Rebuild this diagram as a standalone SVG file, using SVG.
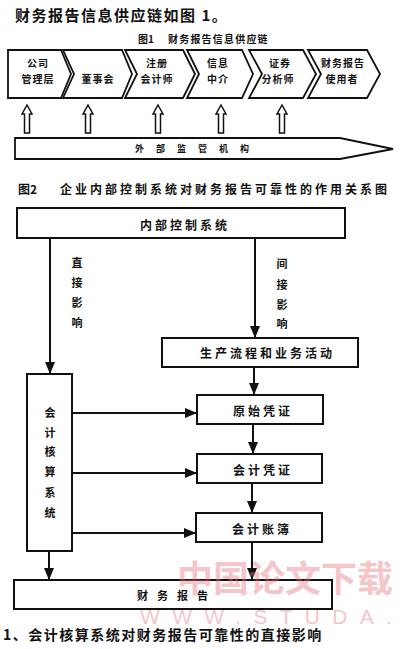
<svg xmlns="http://www.w3.org/2000/svg" width="400" height="649" viewBox="0 0 400 649">
<defs>
<style>
.t{font-family:"Noto Sans CJK SC","Noto Sans",sans-serif;font-weight:bold;fill:#111;dominant-baseline:central}
.box{fill:#fff;stroke:#111;stroke-width:2}
.chev{fill:#fff;stroke:#111;stroke-width:1.8;stroke-linejoin:miter}
.hol{fill:#fff;stroke:#111;stroke-width:1.5}
.con{fill:none;stroke:#111;stroke-width:2;marker-end:url(#ah)}
.wm{font-family:"Noto Sans CJK SC","Liberation Sans",sans-serif;fill:#e8707a;opacity:0.4}
</style>
<marker id="ah" markerUnits="userSpaceOnUse" markerWidth="12" markerHeight="10" viewBox="0 0 12 10" refX="12" refY="5" orient="auto">
<path d="M0,0 L12,5 L0,10 Z" fill="#111"/>
</marker>
</defs>
<rect width="400" height="649" fill="#fff"/>

<text class="t" x="15" y="14" font-size="15" letter-spacing="1.5">财务报告信息供应链如图 1。</text>
<text class="t" x="138" y="38" font-size="10">图1</text>
<text class="t" x="168" y="38" font-size="10" letter-spacing="1.2">财务报告信息供应链</text>

<g id="chain1">
<path class="chev" d="M8,50 L61,50 L71,74 L61,98 L8,98 Z"/>
<text class="t" font-size="10" letter-spacing="1" text-anchor="middle"><tspan x="38" y="62">公司</tspan><tspan x="38" y="78">管理层</tspan></text>
</g>
<g id="chain2">
<path class="chev" d="M63,50 L122,50 L132,74 L122,98 L63,98 L74,74 Z"/>
<text class="t" font-size="10" letter-spacing="1" text-anchor="middle" x="98" y="78">董事会</text>
</g>
<g id="chain3">
<path class="chev" d="M125,50 L183,50 L195,74 L183,98 L125,98 L137,74 Z"/>
<text class="t" font-size="10" letter-spacing="1" text-anchor="middle"><tspan x="157" y="62">注册</tspan><tspan x="157" y="78">会计师</tspan></text>
</g>
<g id="chain4">
<path class="chev" d="M187,50 L242,50 L253,74 L242,98 L187,98 L199,74 Z"/>
<text class="t" font-size="10" letter-spacing="1" text-anchor="middle"><tspan x="218" y="62">信息</tspan><tspan x="218" y="78">中介</tspan></text>
</g>
<g id="chain5">
<path class="chev" d="M249,50 L303,50 L316,74 L303,98 L249,98 L262,74 Z"/>
<text class="t" font-size="10" letter-spacing="1" text-anchor="middle"><tspan x="280" y="62">证券</tspan><tspan x="278" y="78">分析师</tspan></text>
</g>
<g id="chain6">
<path class="chev" d="M308,50 L367,50 L380,74 L367,98 L308,98 L321,74 Z"/>
<text class="t" font-size="10" letter-spacing="1" text-anchor="middle"><tspan x="343" y="62">财务报告</tspan><tspan x="342" y="78">使用者</tspan></text>
</g>

<g id="up-arrows">
<path class="hol" d="M27,105 L32,114 L29.5,114 L29.5,133 L24.5,133 L24.5,114 L22,114 Z"/>
<path class="hol" d="M88,105 L93,114 L90.5,114 L90.5,133 L85.5,133 L85.5,114 L83,114 Z"/>
<path class="hol" d="M158,105 L163,114 L160.5,114 L160.5,133 L155.5,133 L155.5,114 L153,114 Z"/>
<path class="hol" d="M221,105 L226,114 L223.5,114 L223.5,133 L218.5,133 L218.5,114 L216,114 Z"/>
<path class="hol" d="M282,105 L287,114 L284.5,114 L284.5,133 L279.5,133 L279.5,114 L277,114 Z"/>
</g>

<g id="supervision">
<path class="chev" d="M15,138 L340,138 L393,149 L340,159 L15,159 Z"/>
<text class="t" x="135" y="148" font-size="9" letter-spacing="12">外部监管机构</text>
</g>

<text class="t" x="18" y="188" font-size="12">图2</text>
<text class="t" x="60" y="188" font-size="12" letter-spacing="3">企业内部控制系统对财务报告可靠性的作用关系图</text>

<g id="connectors">
<path class="con" d="M50,238 V374"/>
<path class="con" d="M255,238 V338"/>
<path class="con" d="M254,367 V395"/>
<path class="con" d="M72,413 H197"/>
<path class="con" d="M253,424 V454"/>
<path class="con" d="M72,473 H197"/>
<path class="con" d="M252,483 V513"/>
<path class="con" d="M72,533 H196"/>
<path class="con" d="M49,551 V580"/>
<path class="con" d="M252,542 V580"/>
</g>

<g id="internal-control">
<rect class="box" x="17" y="208" width="328" height="30"/>
<text class="t" x="140" y="224" font-size="12" letter-spacing="3">内部控制系统</text>
</g>
<g id="label-direct">
<text class="t" font-size="11" text-anchor="middle"><tspan x="77" y="262">直</tspan><tspan x="77" y="282">接</tspan><tspan x="77" y="302">影</tspan><tspan x="77" y="322">响</tspan></text>
</g>
<g id="label-indirect">
<text class="t" font-size="11" text-anchor="middle"><tspan x="282" y="263">间</tspan><tspan x="282" y="284">接</tspan><tspan x="282" y="304">影</tspan><tspan x="282" y="323">响</tspan></text>
</g>
<g id="production">
<rect class="box" x="162" y="338" width="196" height="29"/>
<text class="t" x="200" y="352" font-size="12" letter-spacing="3">生产流程和业务活动</text>
</g>
<g id="accounting-system">
<rect class="box" x="27" y="374" width="45" height="177"/>
<text class="t" font-size="11" text-anchor="middle"><tspan x="50" y="412">会</tspan><tspan x="50" y="432">计</tspan><tspan x="50" y="451">核</tspan><tspan x="50" y="471">算</tspan><tspan x="50" y="492">系</tspan><tspan x="50" y="512">统</tspan></text>
</g>
<g id="original-voucher">
<rect class="box" x="197" y="395" width="126" height="29"/>
<text class="t" x="233" y="410" font-size="12" letter-spacing="3">原始凭证</text>
</g>
<g id="accounting-voucher">
<rect class="box" x="197" y="454" width="125" height="29"/>
<text class="t" x="233" y="469" font-size="12" letter-spacing="3">会计凭证</text>
</g>
<g id="ledger">
<rect class="box" x="196" y="513" width="126" height="29"/>
<text class="t" x="232" y="528" font-size="12" letter-spacing="3">会计账簿</text>
</g>
<g id="financial-report">
<rect class="box" x="14" y="580" width="318" height="29"/>
<text class="t" x="137" y="595" font-size="11" letter-spacing="9">财务报告</text>
</g>

<text class="t" x="3" y="634" font-size="14" letter-spacing="1.5">1、会计核算系统对财务报告可靠性的直接影响</text>

<g id="watermark">
<text class="wm" x="177" y="592" font-size="36" font-weight="bold">中国论文下载</text>
<text class="wm" x="140" y="624" font-size="21" textLength="252" lengthAdjust="spacing" style="font-family:'Liberation Sans',sans-serif">WWW.STUDA.</text>
</g>
</svg>
